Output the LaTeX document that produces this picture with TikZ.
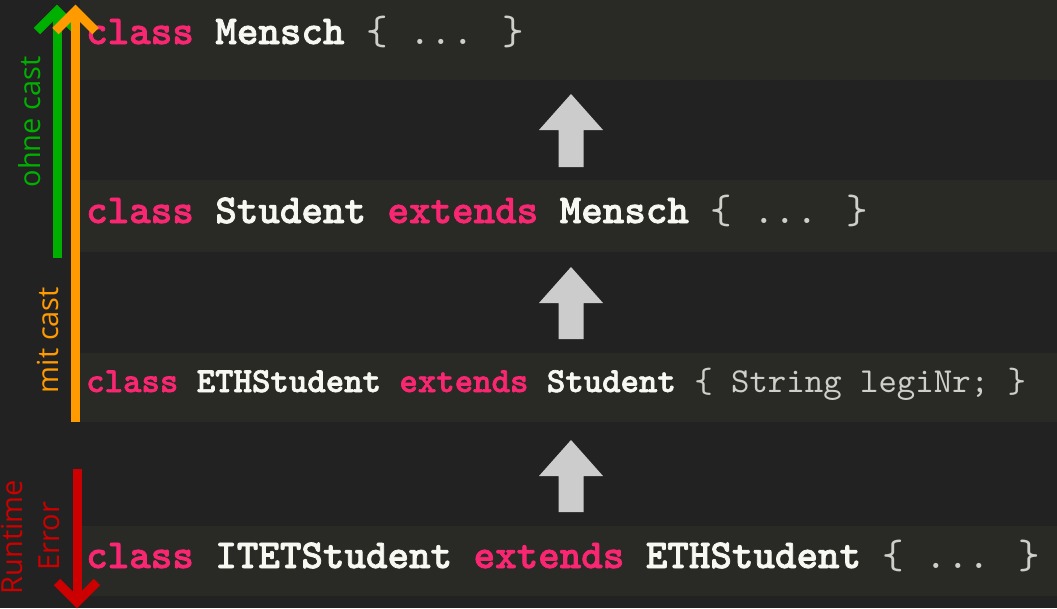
\documentclass[tikz,border=0pt]{standalone}
\usepackage{fontspec}
\setsansfont{Open Sans}
\newfontfamily\codefont{lmmono10-regular.otf}[BoldFont=lmmonolt10-bold.otf, BoldFeatures={FakeBold=1.8}]
\definecolor{bg}{HTML}{222222}
\definecolor{band}{HTML}{292925}
\definecolor{kw}{HTML}{F92672}
\definecolor{idf}{HTML}{F8F8F2}
\definecolor{br}{HTML}{CFCFCA}
\definecolor{garrow}{HTML}{CCCCCC}
\definecolor{cgreen}{HTML}{00B000}
\definecolor{corange}{HTML}{FF9A00}
\definecolor{cred}{HTML}{CC0000}
\newcommand\kwd[1]{\textcolor{kw}{#1}}
\newcommand\lite[1]{{\mdseries\color{br}#1}}
\tikzset{
  codeline/.style={anchor=base west, inner sep=0pt, text=idf, font=\codefont\bfseries\fontsize{41}{44}\selectfont},
  bandbox/.style={fill=band, draw=none},
  uparrow/.style={fill=garrow, draw=none},
  sidearrow/.style={line width=9pt, miter limit=10},
  sidelabel/.style={rotate=90, inner sep=0pt, font=\sffamily\fontsize{29}{32}\selectfont}
}
\begin{document}
\begin{tikzpicture}[x=1pt,y=-1pt]
\fill[bg] (0,0) rectangle (1057,608);
\useasboundingbox (0,0) rectangle (1057,608);
% bands
\fill[bandbox] (80,0) rectangle (1057,80);
\fill[bandbox] (80,180) rectangle (1057,252);
\fill[bandbox] (80,353) rectangle (1057,422);
\fill[bandbox] (80,526) rectangle (1057,596);
% code lines
\node[codeline] (l1) at (86,44) {\kwd{class} Mensch \lite{\{ ... \}}};
\node[codeline] (l2) at (86,223) {\kwd{class} Student \kwd{extends} Mensch \lite{\{ ... \}}};
\node[codeline, font=\codefont\bfseries\fontsize{35.1}{38}\selectfont] (l3) at (86,392) {\kwd{class} ETHStudent \kwd{extends} Student \lite{\{ String legiNr; \}}};
\node[codeline] (l4) at (86,568) {\kwd{class} ITETStudent \kwd{extends} ETHStudent \lite{\{ ... \}}};
% gray inheritance arrows
\foreach \t/\b in {94/167, 267/339, 440/512}{
  \fill[uparrow] (571,\t) -- (603,\t+36) -- (583.5,\t+36) -- (583.5,\b) -- (558.5,\b) -- (558.5,\t+36) -- (539,\t+36) -- cycle;
}
% green arrow
\coordinate (gtop) at (57,11);
\coordinate (gbot) at (57,258);
\draw[sidearrow, cgreen] (gbot) -- (gtop);
\draw[sidearrow, cgreen] (37,31) -- (gtop) -- (77,31);
% orange arrow
\coordinate (otop) at (75.5,11);
\coordinate (obot) at (75.5,422);
\draw[sidearrow, corange] (obot) -- (otop);
\draw[sidearrow, corange] (55.5,31) -- (otop) -- (95.5,31);
% red arrow
\coordinate (rtop) at (77,469);
\coordinate (rbot) at (77,602);
\draw[sidearrow, cred] (rtop) -- (rbot);
\draw[sidearrow, cred] (57,582) -- (rbot) -- (97,582);
% labels
\node[sidelabel, text=cgreen] (ohne) at (30,122) {ohne cast};
\node[sidelabel, text=corange] (mit) at (48,340) {mit cast};
\node[sidelabel, text=cred] (rt) at (12,537) {Runtime};
\node[sidelabel, text=cred] (err) at (49,536) {Error};
\end{tikzpicture}
\end{document}
